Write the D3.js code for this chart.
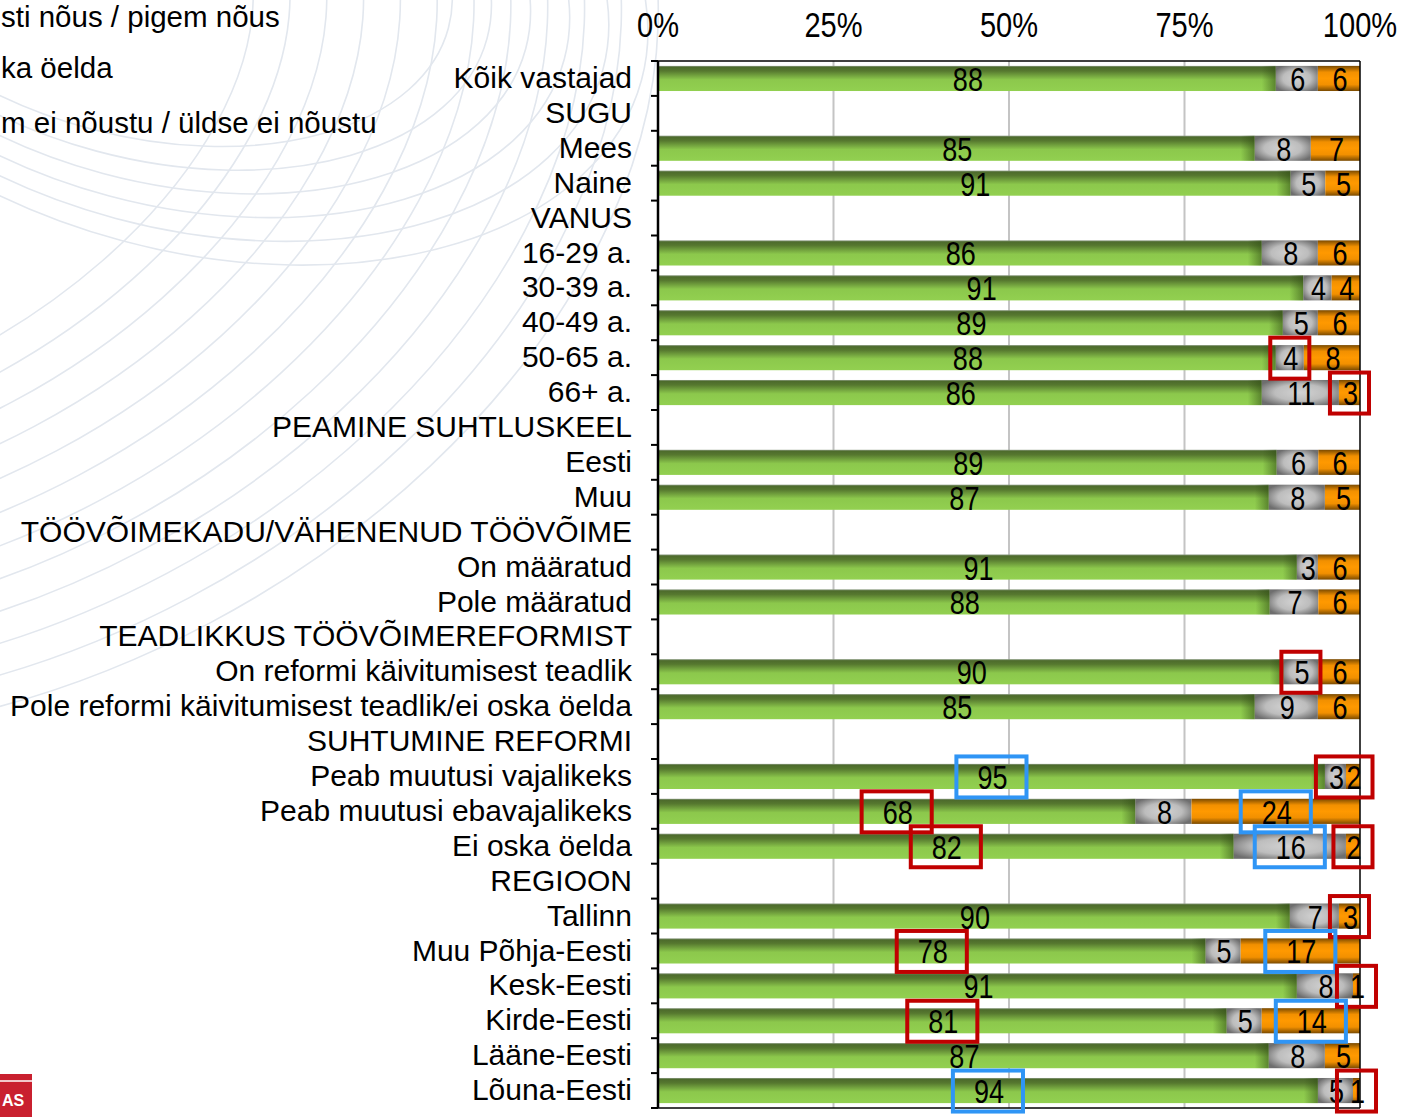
<!DOCTYPE html>
<html>
<head>
<meta charset="utf-8">
<script src="https://cdn.jsdelivr.net/npm/d3@7"></script>
<style>
  body { margin: 0; background: #fff; }
  text { font-family: "Liberation Sans", Arial, sans-serif; fill: #000; }
</style>
</head>
<body>
<div id="chart"></div>
<script>
// Categories, top to bottom (group headers have no values)
var categories = [
  "Kõik vastajad", "SUGU", "Mees", "Naine", "VANUS",
  "16-29 a.", "30-39 a.", "40-49 a.", "50-65 a.", "66+ a.",
  "PEAMINE SUHTLUSKEEL", "Eesti", "Muu",
  "TÖÖVÕIMEKADU/VÄHENENUD TÖÖVÕIME", "On määratud", "Pole määratud",
  "TEADLIKKUS TÖÖVÕIMEREFORMIST", "On reformi käivitumisest teadlik",
  "Pole reformi käivitumisest teadlik/ei oska öelda",
  "SUHTUMINE REFORMI", "Peab muutusi vajalikeks", "Peab muutusi ebavajalikeks", "Ei oska öelda",
  "REGIOON", "Tallinn", "Muu Põhja-Eesti", "Kesk-Eesti", "Kirde-Eesti", "Lääne-Eesti", "Lõuna-Eesti"
];

// Series values (%), null = header row
var agree    = [88, null, 85, 91, null, 86, 91, 89, 88, 86, null, 89, 87, null, 91, 88, null, 90, 85, null, 95, 68, 82, null, 90, 78, 91, 81, 87, 94];
var dontKnow = [6,  null, 8,  5,  null, 8,  4,  5,  4,  11, null, 6,  8,  null, 3,  7,  null, 5,  9,  null, 3,  8,  16, null, 7,  5,  8,  5,  8,  5];
var disagree = [6,  null, 7,  5,  null, 6,  4,  6,  8,  3,  null, 6,  5,  null, 6,  6,  null, 6,  6,  null, 2,  24, 2,  null, 3,  17, 1,  14, 5,  1];

var seriesKeys = ["agree", "dontKnow", "disagree"];
// legend texts as far as they show on the page (their start runs off the left edge)
var legendLabels = ["sti nõus / pigem nõus", "ka öelda", "m ei nõustu / üldse ei nõustu"];
var tickValues = [0, 0.25, 0.5, 0.75, 1];

// Highlight boxes drawn over the labels: [category, series, colour]
var highlights = [
  ["50-65 a.", ["dontKnow"], "red"],
  ["66+ a.", ["disagree"], "red"],
  ["On reformi käivitumisest teadlik", ["dontKnow"], "red"],
  ["Peab muutusi vajalikeks", ["agree"], "blue"],
  ["Peab muutusi vajalikeks", ["dontKnow", "disagree"], "red"],
  ["Peab muutusi ebavajalikeks", ["agree"], "red"],
  ["Peab muutusi ebavajalikeks", ["disagree"], "blue"],
  ["Ei oska öelda", ["agree"], "red"],
  ["Ei oska öelda", ["dontKnow"], "blue"],
  ["Ei oska öelda", ["disagree"], "red"],
  ["Tallinn", ["disagree"], "red"],
  ["Muu Põhja-Eesti", ["agree"], "red"],
  ["Muu Põhja-Eesti", ["disagree"], "blue"],
  ["Kesk-Eesti", ["disagree"], "red"],
  ["Kirde-Eesti", ["agree"], "red"],
  ["Kirde-Eesti", ["disagree"], "blue"],
  ["Lõuna-Eesti", ["agree"], "blue"],
  ["Lõuna-Eesti", ["disagree"], "red"]
];

var svgWidth = 1404;
var svgHeight = 1117;
var plot = { left: 658, right: 1360, top: 61, bottom: 1108 };

var rows = categories.map(function(c, i) {
  return { cat: c, agree: agree[i], dontKnow: dontKnow[i], disagree: disagree[i] };
});
var dataRows = rows.filter(function(d) { return d.agree !== null; });

var svg = d3.select("#chart").append("svg")
  .attr("width", svgWidth)
  .attr("height", svgHeight);

var defs = svg.append("defs");

function vGrad(id, stops) {
  var g = defs.append("linearGradient").attr("id", id)
    .attr("x1", 0).attr("y1", 0).attr("x2", 0).attr("y2", 1);
  stops.forEach(function(s) {
    g.append("stop").attr("offset", s[0]).attr("stop-color", s[1]);
  });
}
vGrad("gGreen", [[0, "#8a9a80"], [0.06, "#4d6b2c"], [0.2, "#56782f"], [0.55, "#8cc84c"], [1, "#92d050"]]);
vGrad("gOrange", [[0, "#7a4a00"], [0.25, "#f29000"], [0.5, "#ff9900"], [0.75, "#f29000"], [1, "#7a4a00"]]);

var rg = defs.append("radialGradient").attr("id", "gGray")
  .attr("cx", 0.5).attr("cy", 0.5).attr("r", 0.6);
rg.append("stop").attr("offset", 0).attr("stop-color", "#d2d2d2");
rg.append("stop").attr("offset", 0.55).attr("stop-color", "#bdbdbd");
rg.append("stop").attr("offset", 1).attr("stop-color", "#6e6e6e");

var eg = defs.append("linearGradient").attr("id", "gEnd")
  .attr("x1", 0).attr("y1", 0).attr("x2", 1).attr("y2", 0);
eg.append("stop").attr("offset", 0).attr("stop-color", "#2e4a12").attr("stop-opacity", 0);
eg.append("stop").attr("offset", 1).attr("stop-color", "#2e4a12").attr("stop-opacity", 0.55);

var fills = { agree: "url(#gGreen)", dontKnow: "url(#gGray)", disagree: "url(#gOrange)" };

// Faint watermark curves in the background
var wm = svg.append("g")
  .attr("fill", "none")
  .attr("stroke", "#e2e7ee")
  .attr("stroke-width", 1.6);
d3.range(12).forEach(function(i) {
  wm.append("ellipse")
    .attr("cx", -100 + i * 8)
    .attr("cy", 60 + i * 10)
    .attr("rx", 440 + i * 26)
    .attr("ry", 260 + i * 22)
    .attr("transform", "rotate(-28, 0, 200)");
});
d3.range(6).forEach(function(i) {
  wm.append("ellipse")
    .attr("cx", 140 + i * 12)
    .attr("cy", -60)
    .attr("rx", 320 + i * 28)
    .attr("ry", 190 + i * 20)
    .attr("transform", "rotate(15, 120, -60)");
});

// Legend
var legendY = [27, 78, 133];
svg.append("g").selectAll("text")
  .data(legendLabels)
  .enter().append("text")
  .attr("x", 1)
  .attr("y", function(d, i) { return legendY[i]; })
  .style("font-size", "29.5px")
  .text(function(d) { return d; });

// Scales
var xScale = d3.scaleLinear().domain([0, 1]).range([plot.left, plot.right]);
var yScale = d3.scaleBand()
  .domain(categories)
  .range([plot.top, plot.bottom])
  .paddingInner(0.28)
  .paddingOuter(0.14);
var step = yScale.step();

// Gridlines
svg.append("g").selectAll("line")
  .data([0.25, 0.5, 0.75])
  .enter().append("line")
  .attr("x1", xScale).attr("x2", xScale)
  .attr("y1", plot.top).attr("y2", plot.bottom)
  .attr("stroke", "#c4c4c4")
  .attr("stroke-width", 2);

// Stacked bars (100%)
var stacked = d3.stack().keys(seriesKeys).offset(d3.stackOffsetExpand)(dataRows);

var layers = svg.append("g").selectAll("g")
  .data(stacked)
  .enter().append("g")
  .attr("fill", function(d) { return fills[d.key]; });

layers.selectAll("rect")
  .data(function(d) { return d; })
  .enter().append("rect")
  .attr("x", function(d) { return xScale(d[0]); })
  .attr("y", function(d) { return yScale(d.data.cat); })
  .attr("width", function(d) { return xScale(d[1]) - xScale(d[0]); })
  .attr("height", yScale.bandwidth());

// dark shading at the end of the green part
svg.append("g").selectAll("rect")
  .data(stacked[0])
  .enter().append("rect")
  .attr("x", function(d) { return xScale(d[1]) - 14; })
  .attr("y", function(d) { return yScale(d.data.cat); })
  .attr("width", 14)
  .attr("height", yScale.bandwidth())
  .attr("fill", "url(#gEnd)");

// Frame and axes
var frame = svg.append("g").attr("stroke", "#000").attr("fill", "none");
frame.append("line").attr("x1", plot.left).attr("x2", plot.right).attr("y1", plot.top).attr("y2", plot.top).attr("stroke-width", 1.5);
frame.append("line").attr("x1", plot.right).attr("x2", plot.right).attr("y1", plot.top).attr("y2", plot.bottom).attr("stroke-width", 1.5);
frame.append("line").attr("x1", plot.left).attr("x2", plot.right).attr("y1", plot.bottom).attr("y2", plot.bottom).attr("stroke-width", 1.5);
frame.append("line").attr("x1", plot.left).attr("x2", plot.left).attr("y1", plot.top).attr("y2", plot.bottom).attr("stroke-width", 2.5);

// category tick marks at band boundaries
frame.selectAll(".ytick")
  .data(d3.range(categories.length + 1))
  .enter().append("line")
  .attr("class", "ytick")
  .attr("x1", plot.left - 7).attr("x2", plot.left)
  .attr("y1", function(i) { return plot.top + i * step; })
  .attr("y2", function(i) { return plot.top + i * step; })
  .attr("stroke-width", 2);

// category labels
svg.append("g").selectAll("text")
  .data(categories)
  .enter().append("text")
  .attr("x", plot.left - 26)
  .attr("y", function(d) { return yScale(d) + yScale.bandwidth() / 2; })
  .attr("dy", "0.32em")
  .attr("text-anchor", "end")
  .style("font-size", "30px")
  .text(function(d) { return d; });

// top percent axis (condensed digits)
var topAxis = svg.append("g")
  .attr("transform", "translate(0," + 24 + ")")
  .call(d3.axisTop(xScale).tickValues(tickValues).tickFormat(d3.format(".0%")).tickSize(0));
topAxis.select(".domain").remove();
topAxis.selectAll("text")
  .attr("y", 0).attr("dy", "0.36em")
  .style("font-family", "'Liberation Sans', Arial, sans-serif")
  .style("font-size", "35px")
  .attr("fill", "#000")
  .attr("transform", "scale(0.83,1)")
  .attr("x", 0);
topAxis.selectAll(".tick")
  .attr("transform", function(d) { return "translate(" + xScale(d) + ",0)"; });

// data labels
var labelPos = {};
stacked.forEach(function(layer) {
  layer.forEach(function(d) {
    var key = d.data.cat + "|" + layer.key;
    labelPos[key] = {
      x: xScale((d[0] + d[1]) / 2),
      y: yScale(d.data.cat) + yScale.bandwidth() / 2,
      text: String(d.data[layer.key])
    };
  });
});

svg.append("g").selectAll("text")
  .data(Object.values(labelPos))
  .enter().append("text")
  .attr("transform", function(d) { return "translate(" + (d.x + 1) + "," + (d.y + 12.5) + ") scale(0.82,1)"; })
  .attr("text-anchor", "middle")
  .style("font-size", "33px")
  .text(function(d) { return d.text; });

// highlight boxes
var boxColor = { red: "#c00000", blue: "#2f95f5" };
var charW = 33 * 0.556 * 0.82;
svg.append("g").selectAll("rect")
  .data(highlights)
  .enter().append("rect")
  .each(function(h) {
    var ps = h[1].map(function(k) { return labelPos[h[0] + "|" + k]; });
    var maxChars = d3.max(ps, function(p) { return p.text.length; });
    var pad = 4 + 8 * maxChars;
    var left = d3.min(ps, function(p) { return p.x - p.text.length * charW / 2; }) - pad;
    var right = d3.max(ps, function(p) { return p.x + p.text.length * charW / 2; }) + pad;
    var cy = ps[0].y;
    d3.select(this)
      .attr("x", left).attr("y", cy - 20)
      .attr("width", right - left).attr("height", 41);
  })
  .attr("fill", "none")
  .attr("stroke", function(h) { return boxColor[h[2]]; })
  .attr("stroke-width", 4);

// logo fragment bottom-left
var logo = svg.append("g");
logo.append("rect").attr("x", 0).attr("y", 1074).attr("width", 32).attr("height", 43).attr("fill", "#c9202f");
logo.append("line").attr("x1", 0).attr("x2", 32).attr("y1", 1081).attr("y2", 1081).attr("stroke", "#fff").attr("stroke-width", 1.5);
logo.append("text").attr("x", 2).attr("y", 1106)
  .style("font-size", "16px").style("font-weight", "bold").style("fill", "#fff")
  .text("AS");
</script>
</body>
</html>
